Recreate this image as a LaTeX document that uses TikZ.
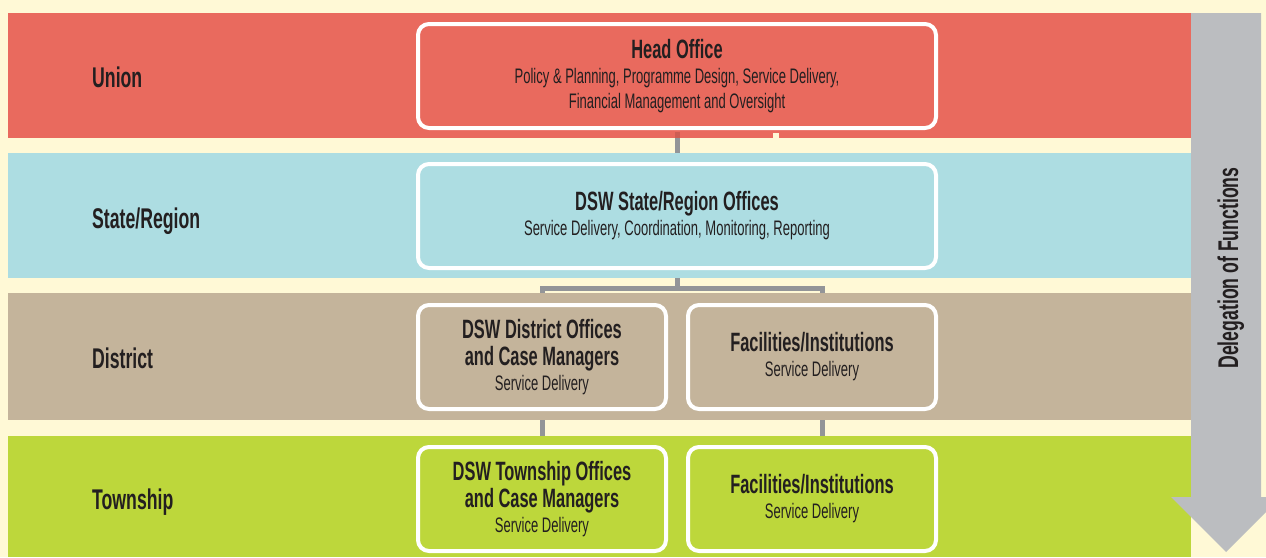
\documentclass[tikz,border=0pt]{standalone}
\usepackage{fontspec}
\setmainfont[FakeStretch=0.62]{Liberation Sans}
\usepackage{tikz}
\usetikzlibrary{positioning}
\definecolor{cream}{HTML}{FFF9D6}
\definecolor{unionred}{HTML}{E96A5E}
\definecolor{stateblue}{HTML}{ADDDE2}
\definecolor{districttan}{HTML}{C4B49B}
\definecolor{townshipgreen}{HTML}{BDD73B}
\definecolor{arrowgrey}{HTML}{BBBDC0}
\definecolor{linkgrey}{HTML}{939598}
\definecolor{ink}{HTML}{231F20}
\pgfdeclarelayer{paper}
\pgfdeclarelayer{back}
\pgfsetlayers{paper,back,main}
\tikzset{
  link/.style      = {draw=linkgrey, line width=5pt},
  tierlabel/.style = {anchor=base west, inner sep=0pt, text=ink, font=\bfseries\fontsize{28.5}{28.5}\selectfont},
  box/.style       = {draw=white, line width=4pt, rounded corners=11pt, align=center, inner sep=0pt, text=ink, font=\fontsize{21}{25}\selectfont},
  widebox/.style   = {box, minimum width=518pt, minimum height=104pt},
  halfbox/.style   = {box, minimum width=248pt, minimum height=104pt},
}
\newcommand{\boxtitle}[1]{{\bfseries\fontsize{26.5}{25}\selectfont #1}}

\begin{document}
\begin{tikzpicture}[x=1pt, y=-1pt]
  \begin{pgfonlayer}{paper}
    \fill[cream] (0,0) rectangle (1266,557);
  \end{pgfonlayer}
  \useasboundingbox (0,0) rectangle (1266,557);
  % tiers
  \fill[unionred]      (8,13)  rectangle (1191,138);
  \fill[stateblue]     (8,153) rectangle (1191,278);
  \fill[districttan]   (8,293) rectangle (1191,420);
  \fill[townshipgreen] (8,436) rectangle (1191,557);
  \fill[cream] (773,133) rectangle (779,138);
  \coordinate (unionfoot) at (0,138);
  \node[tierlabel] (lunion)    at (92,87)  {Union};
  \node[tierlabel] (lstate)    at (92,228) {State/Region};
  \node[tierlabel] (ldistrict) at (92,368) {District};
  \node[tierlabel] (ltownship) at (92,509) {Township};
  % delegation arrow
  \fill[arrowgrey] (1191,13) -- (1261,13) -- (1261,497) -- (1281,497) -- (1226,552)
    -- (1171,497) -- (1191,497) -- cycle;
  \node[rotate=90, anchor=base, inner sep=0pt, text=ink, font=\bfseries\fontsize{28.5}{28.5}\selectfont]
    (deleg) at (1238,268) {Delegation of Functions};
  % offices
  \node[widebox, fill=unionred] (head) at (677,76)
    {\boxtitle{Head Office}\\ Policy \& Planning, Programme Design, Service Delivery,\\ Financial Management and Oversight};
  \node[widebox, fill=stateblue, below=32pt of head] (state)
    {\boxtitle{DSW State/Region Offices}\\ Service Delivery, Coordination, Monitoring, Reporting};
  \node[halfbox, fill=districttan, below right=33pt and 0pt of state.south west] (distoff)
    {\boxtitle{DSW District Offices}\\[2pt] \boxtitle{and Case Managers}\\ Service Delivery};
  \node[halfbox, fill=districttan, right=18pt of distoff] (distfac)
    {\boxtitle{Facilities/Institutions}\\ Service Delivery};
  \node[halfbox, fill=townshipgreen, below=34pt of distoff] (townoff)
    {\boxtitle{DSW Township Offices}\\[2pt] \boxtitle{and Case Managers}\\ Service Delivery};
  \node[halfbox, fill=townshipgreen, right=18pt of townoff] (townfac)
    {\boxtitle{Facilities/Institutions}\\ Service Delivery};
  % links, kept under the tiers
  \coordinate (forkline) at (0,288);
  \coordinate (facdrop) at ([xshift=10pt]distfac.center);
  \draw[link, draw=unionred!88!black] ([yshift=-2pt]head.south) -- (head.south |- unionfoot);
  \begin{pgfonlayer}{back}
    \draw[link] (head) -- (state);
    \draw[link] (state) -- (state |- forkline);
    \draw[link] (distoff) |- (facdrop |- forkline) -- (facdrop);
    \draw[link] (distoff) -- (townoff);
    \draw[link] (facdrop) -- (facdrop |- townfac);
  \end{pgfonlayer}
\end{tikzpicture}
\end{document}
